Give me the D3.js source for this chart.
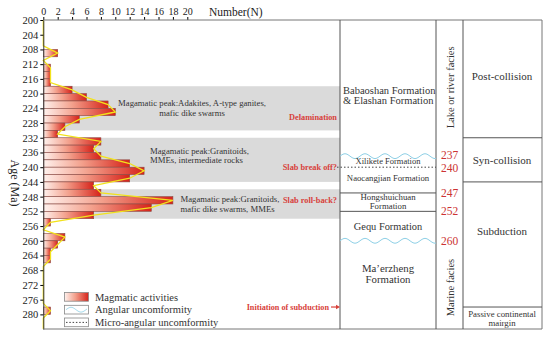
<!DOCTYPE html>
<html><head><meta charset="utf-8">
<script src="https://cdn.jsdelivr.net/npm/d3@7/dist/d3.min.js"></script>
<style>body{margin:0;background:#fff}svg{display:block}text{font-family:"Liberation Serif","Times New Roman",serif}</style>
</head><body><svg id="c" width="550" height="339"></svg>
<script>
// ---- data ----
const binStart = [200,202,204,206,208,210,212,214,216,218,220,222,224,226,228,230,232,234,236,238,240,242,244,246,248,250,252,254,256,258,260,262,264,266,268,270,272,274,276,278,280,282];
const counts   = [0,0,0,0,2,0,1,1,1,4,6,9,10,5,3,2,8,7,8,12,14,12,7,8,18,15,7,1,0,3,2,1,1,0,0,0,0,0,0,1,0,0];
const ageTicks = [200,204,208,212,216,220,224,228,232,236,240,244,248,252,256,260,264,268,272,276,280];
const numTicks = [0,2,4,6,8,10,12,14,16,18,20];
const peakStart = [218,232,246];
const peakEnd   = [230,244,254];
const peakText  = [["Magamatic peak:Adakites, A-type ganites,","mafic dike swarms"],["Magamatic peak:Granitoids,","MMEs, intermediate rocks"],["Magamatic peak:Granitoids,","mafic dike swarms, MMEs"]];
const peakTextAge = [222.6,235.5,248.7];
const tectonicEvents = ["Delamination","Slab break off?","Slab roll-back?"];
const eventAge = [226.3,239.9,248.9];
const formations = [["Babaoshan Formation","& Elashan Formation"],["Xilikete Formation"],["Naocangjian Formation"],["Hongshuichuan","Formation"],["Gequ Formation"],["Ma\u2019erzheng","Formation"]];
const formationAge = [219.0,238.3,243,248.2,256.2,267.4];
const boundaryAge  = [237,240,247,252,260];
const boundaryType = ["wavy","dotted","solid","solid","wavy"];
const stages = [["Post-collision"],["Syn-collision"],["Subduction"],["Passive continental","mairgin"]];
const stageAge = [215.2,238.0,257.3,281.1];
const stageBounds = [232,244,278];
const facies = ["Lake or river facies","Marine facies"];
const faciesAge = [218.3,272.7];
const legendLabels = ["Magmatic activities","Angular uncomformity","Micro-angular uncomformity"];

// ---- layout ----
const svg = d3.select("#c");
const y = d3.scaleLinear().domain([200,284]).range([20,329.1]);
const x = d3.scaleLinear().domain([0,20]).range([43.3,187.3]);
const X0 = 43.3, XR = 340, C1 = 436, C2 = 463, C3 = 542;
const red = "#d8413a";

const defs = svg.append("defs");
const g = defs.append("linearGradient").attr("id","bg").attr("x1",0).attr("x2",1).attr("y1",0).attr("y2",0);
g.append("stop").attr("offset","0%").attr("stop-color","#fff2ee");
g.append("stop").attr("offset","45%").attr("stop-color","#f3a08c");
g.append("stop").attr("offset","100%").attr("stop-color","#d6231a");

// gray peak bands
svg.selectAll("rect.band").data(peakStart).enter().append("rect")
  .attr("x",X0).attr("width",XR-X0)
  .attr("y",d=>y(d)).attr("height",(d,i)=>y(peakEnd[i])-y(d))
  .attr("fill","#dadada");

// bars
svg.selectAll("rect.bar").data(binStart.map((s,i)=>({s,c:counts[i]})).filter(d=>d.c>0)).enter().append("rect")
  .attr("x",X0).attr("y",d=>y(d.s)).attr("height",d=>y(d.s+2)-y(d.s))
  .attr("width",d=>x(d.c)-X0).attr("fill","url(#bg)")
  .attr("stroke","#8a4a44").attr("stroke-width",0.6);

// frequency polygon
const pts = [[0,200]].concat(binStart.map((s,i)=>[counts[i],s+1])).concat([[0,284]]);
svg.append("path").attr("d",d3.line().x(d=>x(d[0])).y(d=>y(d[1]))(pts))
  .attr("fill","none").attr("stroke","#f2e21c").attr("stroke-width",1.3);

// axes
const ax = svg.append("g").attr("transform",`translate(${X0},0)`)
  .call(d3.axisLeft(y).tickValues(ageTicks).tickSize(3).tickPadding(2).tickSizeOuter(0));
ax.selectAll("text").attr("font-size","10.5px").attr("fill","#222").attr("font-family","Liberation Serif");
ax.select(".domain").attr("stroke","#333");
const tx = svg.append("g").attr("transform",`translate(0,20)`)
  .call(d3.axisTop(x).tickValues(numTicks).tickSize(3).tickPadding(2).tickSizeOuter(0));
tx.selectAll("text").attr("font-size","10px").attr("fill","#222").attr("font-family","Liberation Serif");
tx.select(".domain").remove();
svg.append("text").attr("x",209).attr("y",16).attr("font-size","11.5px").attr("fill","#222").text("Number(N)");
svg.append("text").attr("transform","translate(11,183) rotate(90)").attr("text-anchor","middle")
  .attr("font-size","12px").attr("fill","#222").text("Age (Ma)");

// frame
const ln = (x1,y1,x2,y2,c="#555",w=1)=>svg.append("line").attr("x1",x1).attr("y1",y1).attr("x2",x2).attr("y2",y2).attr("stroke",c).attr("stroke-width",w);
ln(X0,20,C3,20,"#777"); ln(X0,329,C3,329,"#777");
ln(XR,20,XR,329); ln(C1,20,C1,329); ln(C2,20,C2,329); ln(C3,20,C3,329,"#777");

// peak texts
const pAnchor = ["middle","start","start"], pX = [192,150,180.5];
peakText.forEach((lines,i)=>{
  lines.forEach((t,j)=>svg.append("text").attr("x",pX[i]).attr("y",y(peakTextAge[i])+j*9.3).attr("dy","0.35em")
    .attr("text-anchor",pAnchor[i]).attr("font-size","8.7px").attr("fill","#333").text(t));
});
tectonicEvents.forEach((t,i)=>svg.append("text").attr("x",337).attr("y",y(eventAge[i])).attr("dy","0.35em")
  .attr("text-anchor","end").attr("font-size","8.3px").attr("font-weight","bold").attr("fill",red).text(t));
svg.append("text").attr("x",329).attr("y",y(278)).attr("dy","0.35em").attr("text-anchor","end")
  .attr("font-size","8.2px").attr("font-weight","bold").attr("fill",red).text("Initiation of subduction");
svg.append("line").attr("x1",331).attr("x2",337).attr("y1",y(278)).attr("y2",y(278)).attr("stroke",red).attr("stroke-width",1.2);
svg.append("path").attr("d",`M336,${y(278)-2.2}L340,${y(278)}L336,${y(278)+2.2}Z`).attr("fill",red);

// formation boundaries
const wave = (x1,x2,yy)=>{const p=[];for(let xx=x1;xx<=x2;xx+=1)p.push([xx,yy-2.4*Math.sin((xx-x1)/20*2*Math.PI)]);return d3.line()(p);};
boundaryAge.forEach((a,i)=>{
  const t=boundaryType[i];
  if(t==="solid") ln(XR,y(a),C1,y(a),"#555");
  else if(t==="dotted") ln(337,y(a),C1,y(a),"#444",1).attr("stroke-dasharray","1.5,2");
  else svg.append("path").attr("d",wave(XR,C1,y(a))).attr("fill","none").attr("stroke","#8fd0e6").attr("stroke-width",1);
});
const fSize = [10.5,8.5,8.7,8.8,10.4,10.8];
const fGap  = [10.5,0,0,8.9,0,11.2];
formations.forEach((lines,i)=>{
  lines.forEach((t,j)=>svg.append("text").attr("x",i===0?343:388).attr("y",y(formationAge[i])+j*fGap[i]).attr("dy","0.35em")
    .attr("text-anchor",i===0?"start":"middle").attr("font-size",fSize[i]+"px").attr("fill","#333").text(t));
});
// ages in red
const ageShift = [-0.8,0.6,0,0,0];
boundaryAge.forEach((a,i)=>svg.append("text").attr("x",449.5).attr("y",y(a)+ageShift[i]).attr("dy","0.35em").attr("text-anchor","middle")
  .attr("font-size","11.5px").attr("fill","#cc3333").text(a));
// facies
facies.forEach((t,i)=>svg.append("text").attr("transform",`translate(450,${y(faciesAge[i])}) rotate(-90)`).attr("dy","0.35em")
  .attr("text-anchor","middle").attr("font-size","10.5px").attr("fill","#333").text(t));
// stages
stageBounds.forEach(a=>ln(C2,y(a),C3,y(a),"#555"));
const sSize=[11,11,11,8.8];
stages.forEach((lines,i)=>lines.forEach((t,j)=>svg.append("text").attr("x",502).attr("y",y(stageAge[i])+j*9.3-(lines.length-1)*4.65).attr("dy","0.35em")
  .attr("text-anchor","middle").attr("font-size",sSize[i]+"px").attr("fill","#333").text(t)));

// legend
const lgY=[292.5,305.3,318];
legendLabels.forEach((t,i)=>{
  svg.append("rect").attr("x",64.5).attr("y",lgY[i]).attr("width",24).attr("height",8.7)
    .attr("fill",i===0?"url(#bg)":"#fff").attr("stroke","#888").attr("stroke-width",0.8);
  if(i===1) svg.append("path").attr("d",wave(66,87,lgY[i]+4.4)).attr("fill","none").attr("stroke","#8fd0e6").attr("stroke-width",0.8);
  if(i===2) ln(66,lgY[i]+4.4,87,lgY[i]+4.4,"#444",1).attr("stroke-dasharray","1.5,1.8");
  svg.append("text").attr("x",95).attr("y",lgY[i]+4.4).attr("dy","0.35em").attr("font-size","10.5px").attr("fill","#333").text(t);
});
</script></body></html>
